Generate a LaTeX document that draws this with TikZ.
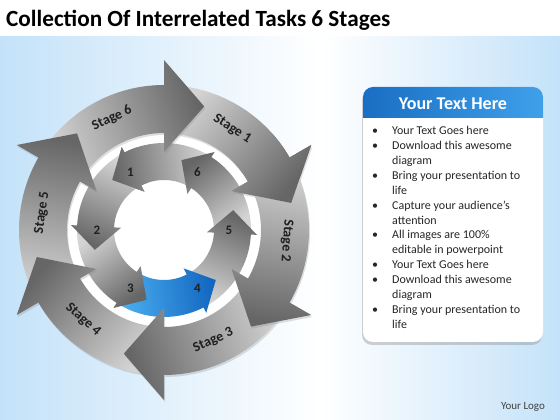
\documentclass[tikz,border=0pt]{standalone}
\usepackage{fontspec}
\setmainfont{Carlito}
\usetikzlibrary{shadows}

\definecolor{bgblue}{HTML}{C4E2F9}
\definecolor{arrlight}{HTML}{D4D4D4}
\definecolor{arrdark}{HTML}{666666}
\definecolor{bluelight}{HTML}{4AAEEF}
\definecolor{bluedark}{HTML}{1366C0}
\definecolor{hdrdark}{HTML}{1A6EC3}
\definecolor{hdrlight}{HTML}{3FA0EA}

\tikzset{
  stagelabel/.style={font=\fontsize{14}{14}\selectfont\bfseries, text=black!88, inner sep=0pt},
  numlabel/.style={font=\fontsize{13}{13}\selectfont\bfseries, text=black!88, inner sep=0pt},
  arrshadow/.style={drop shadow={shadow xshift=1pt, shadow yshift=-2pt, opacity=0.25}},
  boxshadow/.style={drop shadow={shadow xshift=-1pt, shadow yshift=-3pt, opacity=0.35}},
}

% big arrow of the outer ring, head base at angle #2, runs clockwise
\newcommand{\outerarr}[2][arrshadow]{%
  \pgfmathsetmacro{\sang}{#2+20}%
  \shade[left color=arrlight, right color=arrdark, shading angle=\sang, #1]
    (#2+58:145) arc[start angle=#2+58, end angle=#2, radius=145]
    -- (#2:170) -- (#2-18:130) -- (#2:78) -- (#2:97)
    arc[start angle=#2, end angle=#2+58, radius=97] -- cycle;}

% small arrow of the inner ring, head base at angle #1, runs counterclockwise
\newcommand{\innerarr}[3]{%
  \pgfmathsetmacro{\sang}{#1+160}%
  \shade[left color=#2, right color=#3, shading angle=\sang]
    (#1-58:87) arc[start angle=#1-58, end angle=#1, radius=87]
    -- (#1:93) -- (#1+19:72) -- (#1:43) -- (#1:50)
    arc[start angle=#1, end angle=#1-58, radius=50] -- cycle;}

\begin{document}
\begin{tikzpicture}[x=1pt,y=1pt]
\useasboundingbox (0,0) rectangle (560,420);

% background
\fill[white] (0,0) rectangle (560,420);
\shade[left color=bgblue, right color=white] (0,0) rectangle (320,383);
\shade[left color=white, right color=bgblue] (320,0) rectangle (560,383);

\node[anchor=base west, inner sep=0pt, font=\fontsize{23.2}{23.2}\selectfont\bfseries] (title) at (6,393)
  {Collection Of Interrelated Tasks 6 Stages};

\begin{scope}[shift={(164,190)}]
\fill[white] (0,0) circle[radius=97];

% inner ring
\innerarr{117}{arrlight}{arrdark}
\innerarr{57}{arrlight}{arrdark}
\innerarr{357}{arrlight}{arrdark}
\innerarr{297}{bluelight}{bluedark}
\innerarr{237}{arrlight}{arrdark}
\innerarr{177}{arrlight}{arrdark}
\begin{scope}
  \clip (0,0) -- (108:100) arc[start angle=108, end angle=142, radius=100] -- cycle;
  \innerarr{117}{arrlight}{arrdark}
\end{scope}

\node[numlabel] (n1) at (120:67) {1};
\node[numlabel] (n2) at (180:67) {2};
\node[numlabel] (n3) at (240:67) {3};
\node[numlabel] (n4) at (300:67) {4};
\node[numlabel] (n5) at (0:65) {5};
\node[numlabel] (n6) at (60:67) {6};

% outer ring
\outerarr{30}
\outerarr{90}
\outerarr{150}
\outerarr{-150}
\outerarr{-90}
\outerarr{-30}
\begin{scope}
  \clip (0,0) -- (6:180) arc[start angle=6, end angle=42, radius=180] -- cycle;
  \outerarr[]{30}
\end{scope}

\node[stagelabel, rotate=-33] (st1) at (56:122) {Stage 1};
\node[stagelabel, rotate=-94] (st2) at (-5:123) {Stage 2};
\node[stagelabel, rotate=24] (st3) at (-66:121) {Stage 3};
\node[stagelabel, rotate=-42] (st4) at (-132:121) {Stage 4};
\node[stagelabel, rotate=82] (st5) at (172:123) {Stage 5};
\node[stagelabel, rotate=25] (st6) at (115:123) {Stage 6};
\end{scope}

% text panel
\node[fill=white, rounded corners=10pt, minimum width=180pt, minimum height=255pt, boxshadow] (box) at (453,205.5) {};
\shade[left color=hdrdark, right color=hdrlight] (363,302) [rounded corners=10pt] -- (363,333) -- (543,333) [sharp corners] -- (543,302) -- cycle;
\node[text=white, font=\fontsize{18}{18}\selectfont\bfseries] (hdr) at (453,316) {Your Text Here};

\node[anchor=north west, inner sep=0pt, text=black!85, font=\fontsize{12}{14.9}\selectfont] (list) at (372,296) {%
\begin{tabular}{@{}p{20pt}@{}l@{}}
\textbullet & Your Text Goes here\\
\textbullet & Download this awesome\\
 & diagram\\
\textbullet & Bring your presentation to\\
 & life\\
\textbullet & Capture your audience’s\\
 & attention\\
\textbullet & All images are 100\%\\
 & editable in powerpoint\\
\textbullet & Your Text Goes here\\
\textbullet & Download this awesome\\
 & diagram\\
\textbullet & Bring your presentation to\\
 & life
\end{tabular}};

\node[text=black!75, font=\fontsize{11}{11}\selectfont] (logo) at (523,13) {Your Logo};

\end{tikzpicture}
\end{document}
